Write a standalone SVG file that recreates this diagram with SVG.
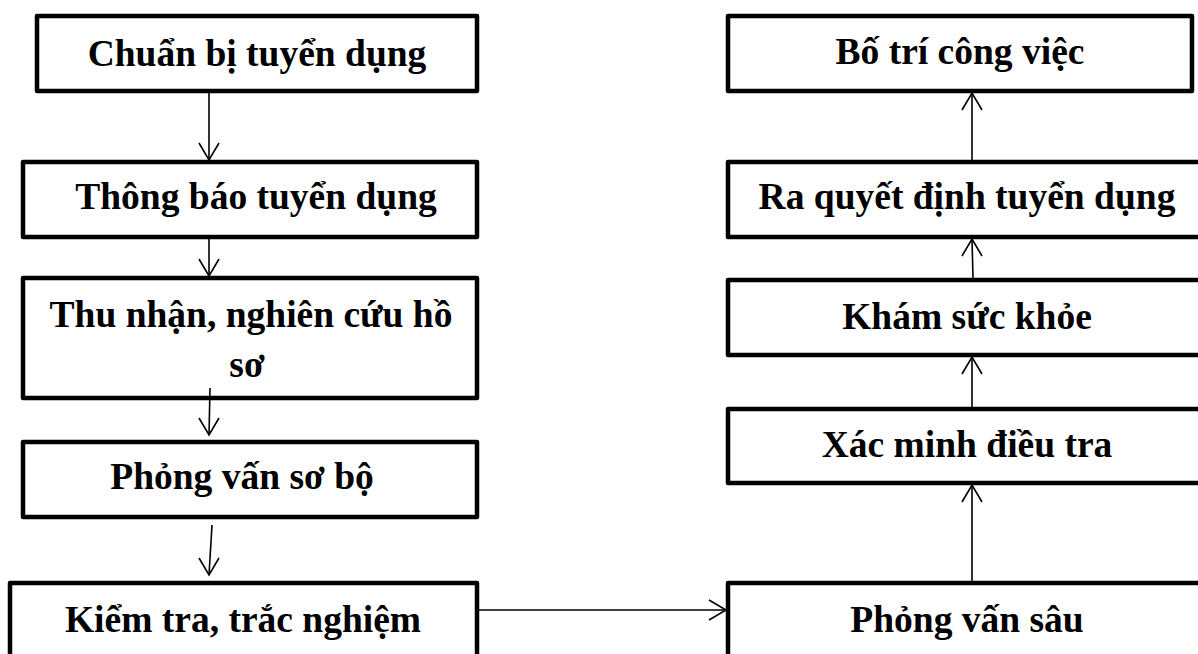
<svg xmlns="http://www.w3.org/2000/svg" width="1198" height="654" viewBox="0 0 1198 654">
<style>
.box{fill:#fff;stroke:#000;stroke-width:4.5;stroke-linejoin:round}
.lbl{font-family:"Liberation Serif","Times New Roman",serif;font-weight:bold;font-size:37.5px;fill:#000;text-anchor:middle}
.con{stroke:#000;stroke-width:1.6;fill:none}
.ah{stroke:#000;stroke-width:1.6;fill:none}
</style>
<rect width="1198" height="654" fill="#fff"/>
<g id="n1"><rect class="box" x="37" y="16" width="440" height="75"/><text class="lbl" x="257" y="66">Chuẩn bị tuyển dụng</text></g>
<g id="n2"><rect class="box" x="23" y="162" width="454" height="75"/><text class="lbl" x="256" y="209">Thông báo tuyển dụng</text></g>
<g id="n3"><rect class="box" x="23" y="278" width="454" height="120"/><text class="lbl" x="251" y="327">Thu nhận, nghiên cứu hồ</text><text class="lbl" x="247" y="377">sơ</text></g>
<g id="n4"><rect class="box" x="23" y="442" width="454" height="75"/><text class="lbl" x="242" y="489">Phỏng vấn sơ bộ</text></g>
<g id="n5"><rect class="box" x="10" y="583" width="467" height="80"/><text class="lbl" x="243" y="632">Kiểm tra, trắc nghiệm</text></g>
<g id="n6"><rect class="box" x="728" y="16" width="464" height="75"/><text class="lbl" x="960" y="64">Bố trí công việc</text></g>
<g id="n7"><rect class="box" x="728" y="162" width="478" height="75"/><text class="lbl" x="967" y="209">Ra quyết định tuyển dụng</text></g>
<g id="n8"><rect class="box" x="728" y="280" width="478" height="75"/><text class="lbl" x="967" y="329">Khám sức khỏe</text></g>
<g id="n9"><rect class="box" x="728" y="409" width="478" height="74"/><text class="lbl" x="967" y="457">Xác minh điều tra</text></g>
<g id="n10"><rect class="box" x="728" y="583" width="478" height="80"/><text class="lbl" x="967" y="632">Phỏng vấn sâu</text></g>
<g id="connectors">
<line class="con" x1="209" y1="93" x2="209" y2="160"/><polyline class="ah" points="199,143 209,160 219,143"/>
<line class="con" x1="209" y1="239" x2="209" y2="276"/><polyline class="ah" points="199,259 209,276 219,259"/>
<line class="con" x1="210" y1="388" x2="209" y2="435"/><polyline class="ah" points="199,418 209,435 219,418"/>
<line class="con" x1="212" y1="525" x2="209" y2="575"/><polyline class="ah" points="199,558 209,575 219,558"/>
<line class="con" x1="479" y1="610" x2="726" y2="610"/><polyline class="ah" points="709,600 726,610 709,620"/>
<line class="con" x1="972" y1="581" x2="972" y2="485"/><polyline class="ah" points="962,502 972,485 982,502"/>
<line class="con" x1="972" y1="407" x2="972" y2="357"/><polyline class="ah" points="962,374 972,357 982,374"/>
<line class="con" x1="973" y1="278" x2="972" y2="239"/><polyline class="ah" points="962,256 972,239 982,256"/>
<line class="con" x1="972" y1="160" x2="972" y2="93"/><polyline class="ah" points="962,110 972,93 982,110"/>
</g>
</svg>
